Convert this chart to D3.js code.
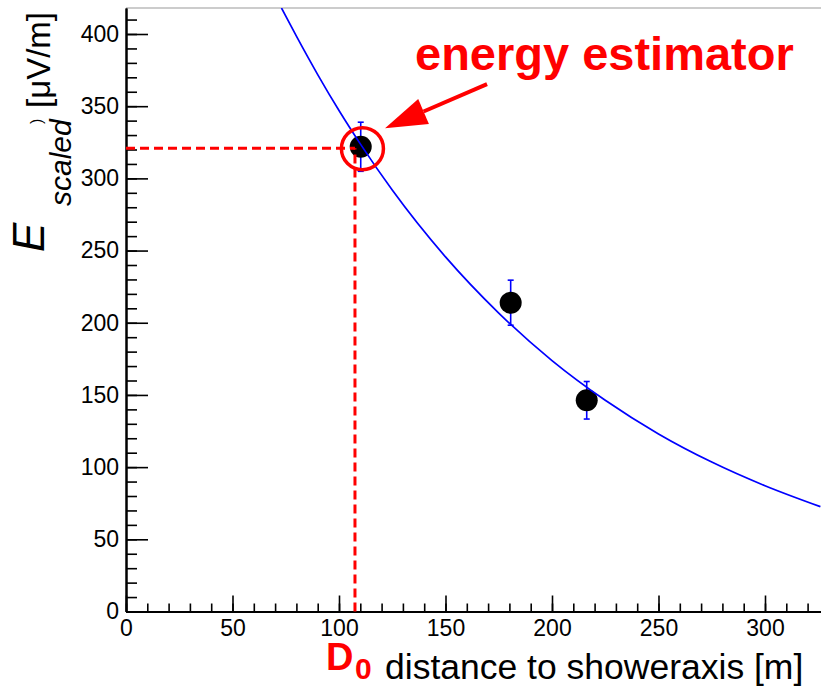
<!DOCTYPE html>
<html><head><meta charset="utf-8">
<script src="https://cdn.jsdelivr.net/npm/d3@7"></script>
<style>
body{margin:0;background:#fff}
svg{display:block}
text{font-family:"Liberation Sans",Arial,Helvetica,sans-serif}
</style>
</head><body>
<svg id="c" width="821" height="687"></svg>
<script>
// ---- data ----
const pointsX = [110.2, 180.6, 216.3];
const pointsY = [321.9, 213.9, 146.3];
const pointsErr = [17, 15.6, 13];
// fitted curve
const fitX = [73, 80, 90, 100, 110, 125, 150, 175, 200, 225, 250, 275, 300, 326];
const fitY = [418, 398.5, 371.9, 347, 323.9, 291.9, 245.6, 206.7, 173.8, 146.3, 123, 103.5, 87.1, 72.6];
const xTickValues = [0, 50, 100, 150, 200, 250, 300];
const xTickLabels = ["0", "50", "100", "150", "200", "250", "300"];
const yTickValues = [0, 50, 100, 150, 200, 250, 300, 350, 400];
const yTickLabels = ["0", "50", "100", "150", "200", "250", "300", "350", "400"];
const xMinorTicks = d3.range(0, 330, 10);
const yMinorTicks = d3.range(0, 420, 10);
const estimatorD0 = [107.5];
const estimatorE = [320.8];
const markerCircle = [111, 320.6];
const arrowFrom = [169.5, 365.3];
const arrowTo = [121.6, 334.8];

// ---- scales ----
const svg = d3.select("#c");
const x = d3.scaleLinear().domain([0, 330]).range([126, 126 + 330 * 2.13]);
const y = d3.scaleLinear().domain([0, 418]).range([611.5, 611.5 - 418 * 1.44375]);

// top frame line
svg.append("line").attr("x1", x(0)).attr("x2", 821).attr("y1", y(418)).attr("y2", y(418))
  .attr("stroke", "#999").attr("stroke-width", 1);

// ---- axes ----
const gx = svg.append("g").attr("transform", `translate(0,${y(0)})`);
gx.call(d3.axisBottom(x).tickValues(xMinorTicks).tickSizeInner(-8).tickSizeOuter(0).tickFormat(""));
gx.append("g").call(d3.axisBottom(x).tickValues(xTickValues).tickSizeInner(-16).tickSizeOuter(0)
  .tickPadding(8).tickFormat((d, i) => xTickLabels[i]));
const gy = svg.append("g").attr("transform", `translate(${x(0)},0)`);
gy.call(d3.axisLeft(y).tickValues(yMinorTicks).tickSizeInner(-11).tickSizeOuter(0).tickFormat(""));
gy.append("g").call(d3.axisLeft(y).tickValues(yTickValues).tickSizeInner(-22).tickSizeOuter(0)
  .tickPadding(7).tickFormat((d, i) => yTickLabels[i]));
svg.selectAll(".domain").attr("stroke", "#000").attr("stroke-width", 2);
svg.selectAll(".tick line").attr("stroke", "#000").attr("stroke-width", 1.6);
svg.selectAll(".tick text").attr("font-size", 23).attr("fill", "#000")
  .attr("font-family", '"Liberation Sans",Arial,sans-serif');

// ---- error bars ----
const pts = pointsX.map((v, i) => ({x: v, y: pointsY[i], e: pointsErr[i]}));
const eb = svg.append("g").attr("stroke", "#0000ff").attr("stroke-width", 1.6);
pts.forEach(p => {
  eb.append("line").attr("x1", x(p.x)).attr("x2", x(p.x)).attr("y1", y(p.y - p.e)).attr("y2", y(p.y + p.e));
  [p.y - p.e, p.y + p.e].forEach(v => eb.append("line")
    .attr("x1", x(p.x) - 3).attr("x2", x(p.x) + 3).attr("y1", y(v)).attr("y2", y(v)));
});
// ---- markers ----
svg.append("g").selectAll("circle").data(pts).join("circle")
  .attr("cx", d => x(d.x)).attr("cy", d => y(d.y)).attr("r", 11).attr("fill", "#000");

// ---- fit curve ----
const fit = fitX.map((v, i) => [v, fitY[i]]);
svg.append("defs").append("clipPath").attr("id", "clip").append("rect")
  .attr("x", x(0)).attr("y", y(418)).attr("width", 821 - x(0)).attr("height", y(0) - y(418));
svg.append("path").datum(fit).attr("clip-path", "url(#clip)")
  .attr("d", d3.line().x(d => x(d[0])).y(d => y(d[1])).curve(d3.curveMonotoneX))
  .attr("fill", "none").attr("stroke", "#0000ff").attr("stroke-width", 1.7);

// ---- annotations ----
const red = "#ff0000";
svg.append("line").attr("x1", x(0)).attr("x2", x(estimatorD0[0])).attr("y1", y(estimatorE[0])).attr("y2", y(estimatorE[0]))
  .attr("stroke", red).attr("stroke-width", 3).attr("stroke-dasharray", "9,5");
svg.append("line").attr("x1", x(estimatorD0[0])).attr("x2", x(estimatorD0[0])).attr("y1", y(0)).attr("y2", y(estimatorE[0]))
  .attr("stroke", red).attr("stroke-width", 3).attr("stroke-dasharray", "9,5");
svg.append("circle").attr("cx", x(markerCircle[0])).attr("cy", y(markerCircle[1])).attr("r", 21)
  .attr("fill", "none").attr("stroke", red).attr("stroke-width", 3.5);

// arrow
const ax0 = x(arrowFrom[0]), ay0 = y(arrowFrom[1]), ax1 = x(arrowTo[0]), ay1 = y(arrowTo[1]);
const ang = Math.atan2(ay1 - ay0, ax1 - ax0);
const headLen = 42, headHalf = 13.5;
const bx = ax1 - headLen * Math.cos(ang), by = ay1 - headLen * Math.sin(ang);
svg.append("line").attr("x1", ax0).attr("y1", ay0).attr("x2", bx).attr("y2", by)
  .attr("stroke", red).attr("stroke-width", 4);
svg.append("path").attr("fill", red).attr("d",
  `M${ax1},${ay1}L${bx + headHalf * Math.sin(ang)},${by - headHalf * Math.cos(ang)}L${bx - headHalf * Math.sin(ang)},${by + headHalf * Math.cos(ang)}Z`);

svg.append("text").attr("x", 415).attr("y", 70).attr("fill", red).attr("font-weight", "bold")
  .attr("font-size", 47).text("energy estimator");

// ---- axis titles ----
svg.append("text").attr("x", 326).attr("y", 670).attr("fill", red).attr("font-weight", "bold")
  .attr("font-size", 38).text("D");
svg.append("text").attr("x", 355).attr("y", 679).attr("fill", red).attr("font-weight", "bold")
  .attr("font-size", 30).text("0");
svg.append("text").attr("x", 385).attr("y", 679).attr("fill", "#000")
  .attr("font-size", 35.5).text("distance to showeraxis [m]");

svg.append("text").attr("transform", "translate(44,252) rotate(-90)").attr("font-style", "italic")
  .attr("font-size", 44).attr("fill", "#000").text("E");
svg.append("text").attr("transform", "translate(71,206) rotate(-90)").attr("font-style", "italic")
  .attr("font-size", 30).attr("fill", "#000").text("scaled");
svg.append("text").attr("transform", "translate(42,124) rotate(-90)")
  .attr("font-size", 16).attr("fill", "#000").text(")");
svg.append("text").attr("transform", "translate(50,108) rotate(-90)")
  .attr("font-size", 33).attr("fill", "#000").text("[μV/m]");
</script>
</body></html>
